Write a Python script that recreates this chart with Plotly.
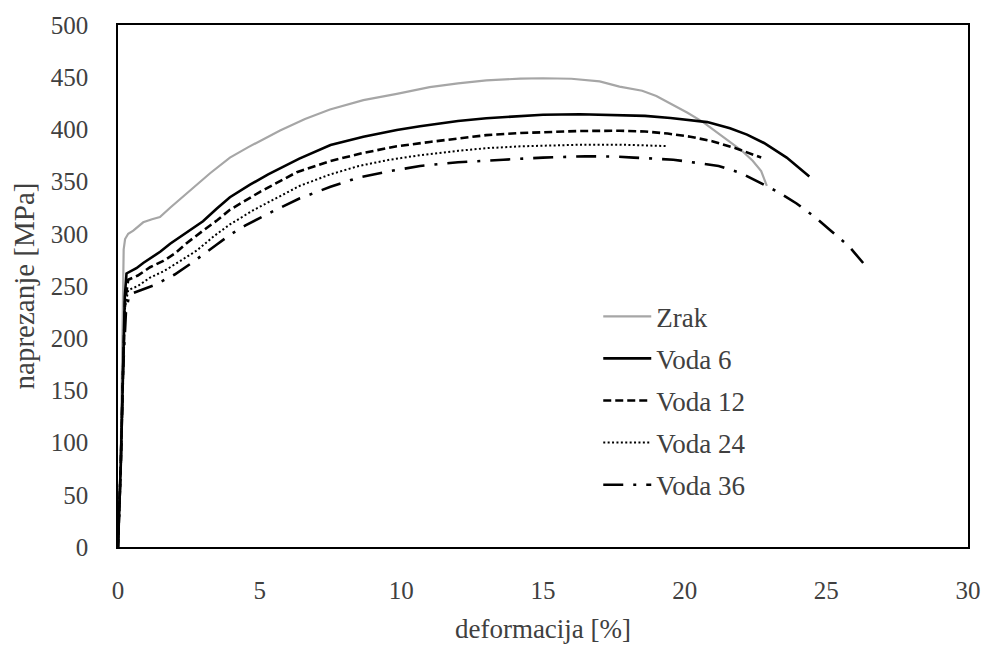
import plotly.graph_objects as go

# Stress-strain curves: strain [%] vs. stress [MPa]
zrak_x = [0, 0.08, 0.13, 0.17, 0.2, 0.25, 0.36, 0.54, 0.89, 1.2, 1.48, 1.84, 2.3, 2.8, 3.25, 3.95,
          4.6, 5.72, 6.6, 7.48, 8.66, 9.84, 11.0, 12.0, 13.0, 14.2, 15.0, 16.0, 17.0, 17.7, 18.5,
          19.0, 19.54, 20.1, 20.65, 21.1, 21.6, 22.0, 22.4, 22.7, 22.9]
zrak_y = [0, 60, 150, 230, 285, 295, 300, 303, 311, 314, 316, 325, 336, 348, 358, 373,
          383, 399, 410, 419, 428, 434, 440.5, 444, 447, 448.6, 449, 448.5, 446, 441, 437,
          432, 424, 416, 407, 398, 388, 380, 370, 360, 346]

voda6_x = [0, 0.1, 0.18, 0.24, 0.3, 0.48, 0.65, 0.89, 1.25, 1.5, 1.84, 2.19, 2.54, 3.0, 3.48,
           3.95, 4.66, 5.3, 6.4, 7.5, 8.66, 9.84, 10.66, 12.0, 13.0, 14.0, 15.0, 16.3, 17.7,
           18.6, 19.5, 20.2, 20.8, 21.6, 22.2, 22.8, 23.6, 24.4]
voda6_y = [0, 80, 170, 240, 262, 265, 267, 272, 278, 283, 290.5, 297, 303, 312, 324,
           335, 347, 357, 372, 385, 393, 399.5, 403, 408, 410.7, 412.5, 414, 414.5, 414,
           413, 411, 409, 407, 401, 395, 387, 373, 355]

voda12_x = [0, 0.1, 0.18, 0.25, 0.36, 0.7, 1.13, 1.6, 2.0, 2.42, 3.0, 3.5, 3.95, 5.0, 6.31,
            7.48, 8.66, 9.84, 11.0, 12.0, 13.0, 14.2, 15.5, 16.3, 17.7, 18.6, 19.4, 20.2, 21.0,
            21.8, 22.7]
voda12_y = [0, 80, 170, 235, 256, 260, 268, 274, 281, 291, 303, 313, 323, 340, 359,
            369.6, 377.5, 383.8, 388, 391.5, 394.5, 396.5, 398, 398.5, 398.7, 398, 396, 393, 388.5,
            382, 373]

voda24_x = [0, 0.1, 0.18, 0.25, 0.36, 0.7, 1.13, 1.6, 2.2, 2.78, 3.4, 3.95, 4.8, 5.5, 6.42,
            7.5, 8.5, 9.6, 10.66, 12.0, 13.0, 14.2, 15.5, 16.3, 17.7, 18.6, 19.4]
voda24_y = [0, 80, 170, 230, 246, 250, 258, 264, 274, 284, 298, 309, 323, 333, 346,
            357, 365, 371, 375.3, 379.5, 382, 383.8, 385, 385.3, 385.4, 385, 384]

voda36_x = [0, 0.1, 0.18, 0.28, 0.4, 0.8, 1.3, 2.0, 2.6, 3.5, 3.95, 4.5, 5.5, 6.42, 7.5, 8.5,
            9.6, 10.66, 12.0, 13.6, 15.0, 16.5, 17.5, 18.2, 19.6, 20.4, 21.2, 22.0, 22.66,
            23.3, 23.95, 24.6, 25.2, 25.8, 26.3]
voda36_y = [0, 80, 170, 225, 242, 246, 251, 261, 272, 290, 299, 308, 322, 334, 345, 354,
            360, 365, 368.5, 371, 373, 374.3, 374, 373, 371, 368, 365, 358, 349,
            340, 329, 316, 302, 288, 272]

x_ticks = [0, 5, 10, 15, 20, 25, 30]
y_ticks = [0, 50, 100, 150, 200, 250, 300, 350, 400, 450, 500]

TEXT = "#404040"
FONT = "Liberation Serif"

series = [
    ("Zrak", zrak_x, zrak_y, dict(color="#a6a6a6", width=2.2, dash="solid")),
    ("Voda 6", voda6_x, voda6_y, dict(color="black", width=2.6, dash="solid")),
    ("Voda 12", voda12_x, voda12_y, dict(color="black", width=2.6, dash="8px,4px")),
    ("Voda 24", voda24_x, voda24_y, dict(color="black", width=2.0, dash="2px,2.4px")),
    ("Voda 36", voda36_x, voda36_y, dict(color="black", width=2.6, dash="20px,10px,3px,10px")),
]

fig = go.Figure()
for name, xs, ys, line in series:
    fig.add_trace(go.Scatter(x=xs, y=ys, mode="lines", name=name, line=line,
                             legendgroup=name))

axis_common = dict(
    showgrid=False, zeroline=False, showline=True, linecolor="black", linewidth=1.5,
    mirror=True, ticks="", tickfont=dict(family=FONT, size=25, color=TEXT),
)

fig.update_layout(
    width=995, height=651,
    margin=dict(l=118, r=27, t=19, b=104),
    paper_bgcolor="white", plot_bgcolor="white",
    font=dict(family=FONT, color=TEXT, size=25),
    xaxis=dict(range=[0, 30], tickvals=x_ticks, ticklabelstandoff=20,
               title=dict(text="deformacija [%]", font=dict(family=FONT, size=27, color=TEXT),
                          standoff=16),
               **axis_common),
    yaxis=dict(range=[0, 500], tickvals=y_ticks, ticklabelstandoff=23,
               title=dict(text="naprezanje [MPa]", font=dict(family=FONT, size=29, color=TEXT),
                          standoff=8),
               **axis_common),
    legend=dict(x=0.565, y=0.488, xanchor="left", yanchor="top",
                bgcolor="rgba(0,0,0,0)", traceorder="grouped", tracegroupgap=4,
                itemwidth=48,
                font=dict(family=FONT, size=27, color=TEXT)),
    showlegend=True,
)

fig.write_html("out.html")
